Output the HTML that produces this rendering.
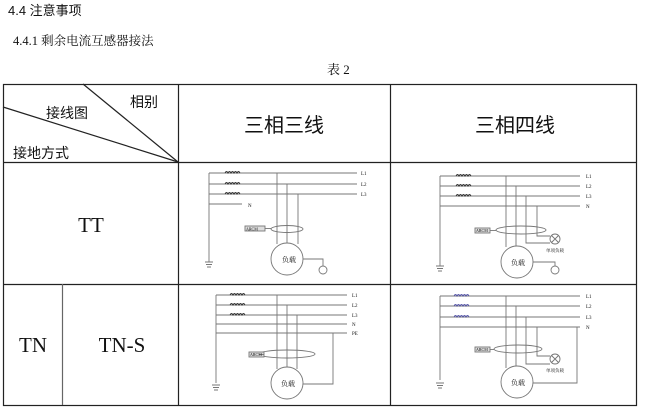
<!DOCTYPE html>
<html><head><meta charset="utf-8"><style>
html,body{margin:0;padding:0;background:#fff;}
svg{display:block}
text{font-family:"Liberation Serif","Noto Serif CJK SC","Noto Sans CJK SC",serif;fill:#111}
.s{font-family:"Liberation Sans","Noto Sans CJK SC",sans-serif}
</style></head><body>
<svg width="653" height="411" viewBox="0 0 653 411" xmlns="http://www.w3.org/2000/svg">
<text x="8" y="15" font-size="13" class="s">4.4 注意事项</text>
<text x="13" y="45" font-size="12.5">4.4.1 剩余电流互感器接法</text>
<text x="327" y="74" font-size="13">表 2</text>
<g stroke="#222" stroke-width="1.2" fill="none">
<rect x="3.5" y="84.5" width="633" height="321"/>
<line x1="3" y1="162.5" x2="637" y2="162.5"/>
<line x1="3" y1="284.5" x2="637" y2="284.5"/>
<line x1="178.5" y1="84" x2="178.5" y2="405"/>
<line x1="390.5" y1="84" x2="390.5" y2="405"/>
<line x1="62.5" y1="284" x2="62.5" y2="405" stroke="#666"/>
<line x1="83" y1="84" x2="178" y2="162"/>
<line x1="3" y1="107" x2="178" y2="162"/>
</g>
<text x="130" y="107" font-size="14" class="s" fill="#222">相别</text>
<text x="46" y="118" font-size="14" class="s">接线图</text>
<text x="13" y="158" font-size="14" class="s">接地方式</text>
<text x="284" y="132" font-size="20" text-anchor="middle" class="s">三相三线</text>
<text x="515" y="132" font-size="20" text-anchor="middle" class="s">三相四线</text>
<text x="91" y="232" font-size="21" text-anchor="middle">TT</text>
<text x="33" y="352" font-size="21" text-anchor="middle">TN</text>
<text x="122" y="352" font-size="21" text-anchor="middle">TN-S</text>

<g stroke="#777" stroke-width="0.9" fill="none">
<!-- D1 -->
<path d="M209 173V262M209 173H357M209 184H357M209 194H357M209 204H242"/>
<path d="M225 173q1.5-3 3 0q1.5-3 3 0q1.5-3 3 0q1.5-3 3 0q1.5-3 3 0M225 184q1.5-3 3 0q1.5-3 3 0q1.5-3 3 0q1.5-3 3 0q1.5-3 3 0M225 194q1.5-3 3 0q1.5-3 3 0q1.5-3 3 0q1.5-3 3 0q1.5-3 3 0" stroke="#333"/>
<path d="M277 173V244M287 184V243M298 194V244"/>
<ellipse cx="287" cy="229" rx="16" ry="3.5"/>
<rect x="245" y="226" width="20" height="5" fill="#ddd"/>
<path d="M265 228.5H271"/>
<circle cx="287" cy="259" r="16"/>
<path d="M303 259H323V266"/><circle cx="323" cy="270" r="4"/>
<path d="M205 262H213M206 264.5H212M207 267H211"/>
<!-- D2 -->
<path d="M440 176V266M440 176H580M440 186H580M440 196H580M440 206H580"/>
<path d="M456 176q1.5-3 3 0q1.5-3 3 0q1.5-3 3 0q1.5-3 3 0q1.5-3 3 0M456 186q1.5-3 3 0q1.5-3 3 0q1.5-3 3 0q1.5-3 3 0q1.5-3 3 0M456 196q1.5-3 3 0q1.5-3 3 0q1.5-3 3 0q1.5-3 3 0q1.5-3 3 0" stroke="#333"/>
<path d="M506 176V247M516 186V246M526 196V243H550M537 206V236H550"/>
<ellipse cx="521" cy="230" rx="25" ry="4"/>
<rect x="475" y="228" width="15" height="5" fill="#ddd"/>
<path d="M490 230.5H496"/>
<circle cx="555" cy="239" r="5"/><path d="M551.5 235.5l7 7M558.5 235.5l-7 7"/>
<circle cx="517" cy="262" r="16"/>
<path d="M533 262H555V266"/><circle cx="555" cy="270" r="4"/>
<path d="M436 266H444M437 268.5H443M438 271H442"/>
<!-- D3 -->
<path d="M216 295V383M216 295H347M216 305H347M216 315H347M216 324H347M216 333H347"/>
<path d="M230 295q1.5-3 3 0q1.5-3 3 0q1.5-3 3 0q1.5-3 3 0q1.5-3 3 0M230 305q1.5-3 3 0q1.5-3 3 0q1.5-3 3 0q1.5-3 3 0q1.5-3 3 0M230 315q1.5-3 3 0q1.5-3 3 0q1.5-3 3 0q1.5-3 3 0q1.5-3 3 0" stroke="#333"/>
<path d="M277 295V369M287 305V367M297 315V369M333 333V384H303"/>
<ellipse cx="287" cy="354" rx="28" ry="4"/>
<rect x="249" y="352" width="15" height="5" fill="#ddd"/>
<path d="M264 354.5H259"/>
<circle cx="287" cy="383" r="16"/>
<path d="M212 385H220M213 387.5H219M214 390H218"/>
<!-- D4 -->
<path d="M440 296V380M440 296H580M440 306H580M440 317H580M440 327H580"/>
<path d="M454 296q1.5-3 3 0q1.5-3 3 0q1.5-3 3 0q1.5-3 3 0q1.5-3 3 0M454 306q1.5-3 3 0q1.5-3 3 0q1.5-3 3 0q1.5-3 3 0q1.5-3 3 0M454 317q1.5-3 3 0q1.5-3 3 0q1.5-3 3 0q1.5-3 3 0q1.5-3 3 0" stroke="#55a"/>
<path d="M506 296V368M516 306V366M526 317V364H550M537 327V356H550M577 327V383H533"/>
<ellipse cx="518" cy="349" rx="24" ry="4"/>
<rect x="475" y="347" width="15" height="5" fill="#ddd"/>
<path d="M490 349.5H494"/>
<circle cx="555" cy="359" r="5"/><path d="M551.5 355.5l7 7M558.5 355.5l-7 7"/>
<circle cx="517" cy="382" r="16"/>
<path d="M436 383H444M437 385.5H443M438 388H442"/>
</g>
<g font-size="5" fill="#444" class="s">
<text x="361" y="175">L1</text><text x="361" y="186">L2</text><text x="361" y="196">L3</text><text x="248" y="207">N</text>
<text x="246" y="230.5" font-size="4">ARCM</text>
<text x="282" y="262" font-size="7">负载</text>
<text x="586" y="178">L1</text><text x="586" y="188">L2</text><text x="586" y="198">L3</text><text x="586" y="208">N</text>
<text x="476" y="232" font-size="4">ARCM</text>
<text x="546" y="252" font-size="4.5">单项负载</text>
<text x="511" y="265" font-size="7">负载</text>
<text x="352" y="297">L1</text><text x="352" y="307">L2</text><text x="352" y="317">L3</text><text x="352" y="326">N</text><text x="352" y="335">PE</text>
<text x="250" y="356" font-size="4">ARCM</text>
<text x="281" y="386" font-size="7">负载</text>
<text x="586" y="298">L1</text><text x="586" y="308">L2</text><text x="586" y="319">L3</text><text x="586" y="329">N</text>
<text x="476" y="351" font-size="4">ARCM</text>
<text x="546" y="372" font-size="4.5">单项负载</text>
<text x="511" y="385" font-size="7">负载</text>
</g>
</svg>
</body></html>
